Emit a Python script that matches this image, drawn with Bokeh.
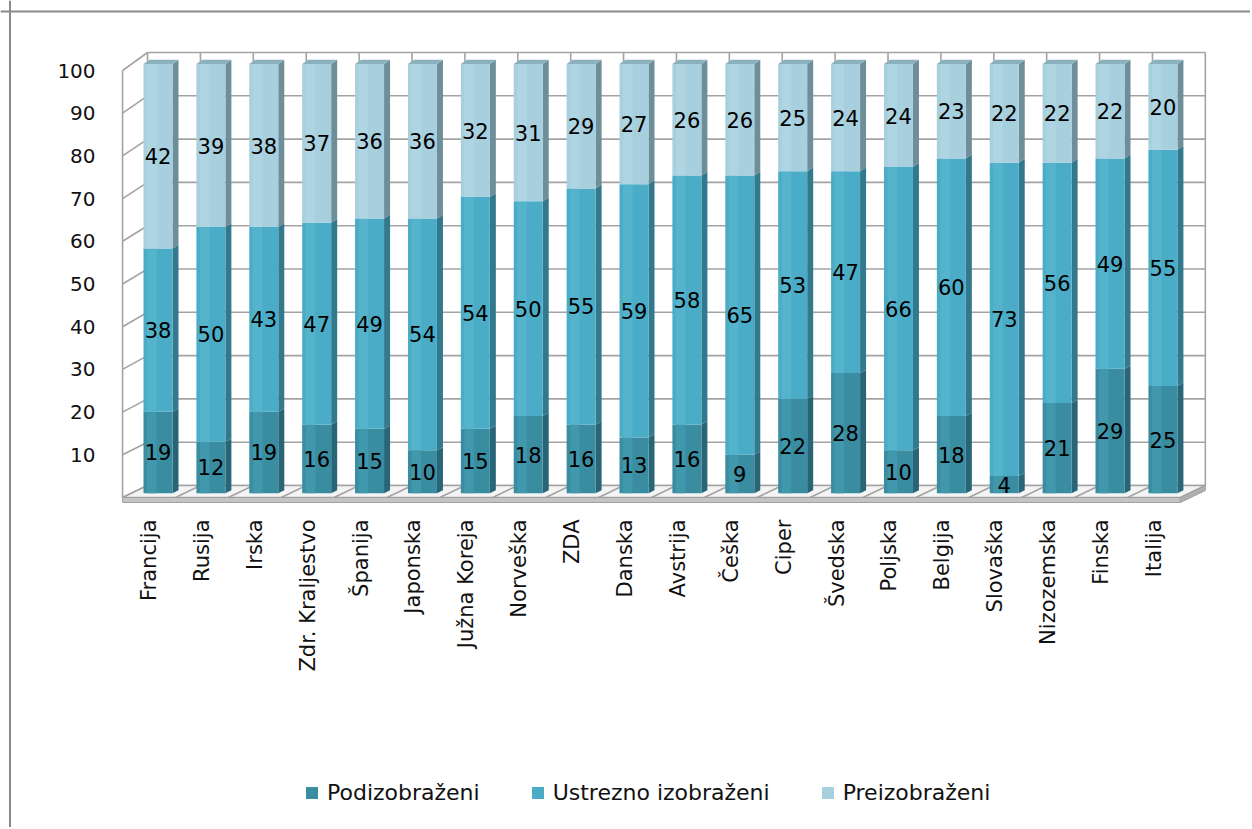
import math
from bokeh.plotting import figure
from bokeh.models import ColumnDataSource, Legend, LegendItem, Span, Range1d
from bokeh.core.properties import value
from bokeh.embed import file_html
from bokeh.resources import INLINE

# ---------------- data ----------------
categories = ["Francija", "Rusija", "Irska", "Zdr. Kraljestvo", "Španija", "Japonska",
              "Južna Koreja", "Norveška", "ZDA", "Danska", "Avstrija", "Češka", "Ciper",
              "Švedska", "Poljska", "Belgija", "Slovaška", "Nizozemska", "Finska", "Italija"]
podizobrazeni = [19, 12, 19, 16, 15, 10, 15, 18, 16, 13, 16, 9, 22, 28, 10, 18, 4, 21, 29, 25]
ustrezno_izobrazeni = [38, 50, 43, 47, 49, 54, 54, 50, 55, 59, 58, 65, 53, 47, 66, 60, 73, 56, 49, 55]
preizobrazeni = [42, 39, 38, 37, 36, 36, 32, 31, 29, 27, 26, 26, 25, 24, 24, 23, 22, 22, 22, 20]
series_names = ["Podizobraženi", "Ustrezno izobraženi", "Preizobraženi"]
y_ticks = [10, 20, 30, 40, 50, 60, 70, 80, 90, 100]
y_tick_labels = [str(t) for t in y_ticks]
y_max = 100   # shares in %, each stack fills up to 100

# ---------------- styling / geometry ----------------
FONT = "DejaVu Sans"
front_colors = ["#3a8ca1", "#4aacc6", "#a7cfdd"]
highlight_colors = ["#4197ab", "#55b4cc", "#b0d5e2"]
side_colors = ["#286677", "#33798d", "#6e8e99"]
top_color = "#8cb1be"
grid_color = "#a3a3a3"

W, H = 1250, 827
PX_X = 52.89          # pixels per category
PX_Y = 4.27           # pixels per value unit
X0 = 148.5            # px of first category (front plane)
Y0 = 497.0            # px (from top) of value 0 (front plane)
DX = 25.0 / PX_X      # depth shift in x (category units)


def dy(v):
    return (12.0 + 0.06 * v) / PX_Y


def proj(x, v, d):
    return x + d * DX, v + d * dy(v)


n = len(categories)
XL, XR = -0.5, n - 0.5
BAR_W = 29.0 / PX_X
D0, D1 = 0.36, 0.60

p = figure(width=W, height=H, output_backend="svg", toolbar_location=None,
           x_range=Range1d(-X0 / PX_X, (W - X0) / PX_X),
           y_range=Range1d((Y0 - H) / PX_Y, Y0 / PX_Y),
           min_border=0, x_axis_location=None, y_axis_location=None)
p.grid.visible = False
p.outline_line_color = None
p.background_fill_color = "white"
p.border_fill_color = "white"

# ---------------- walls ----------------
xs, ys = [], []
for t in [0] + y_ticks:
    a = proj(XL, t, 1); b = proj(XR, t, 1)
    xs.append([a[0], b[0]]); ys.append([a[1], b[1]])
    c = proj(XL, t, 0)
    xs.append([c[0], a[0]]); ys.append([c[1], a[1]])
for k in range(n + 1):
    a = proj(XL + k, 0, 1); b = proj(XL + k, y_max, 1)
    xs.append([a[0], b[0]]); ys.append([a[1], b[1]])
a = proj(XL, 0, 0); b = proj(XL, y_max, 0)
xs.append([a[0], b[0]]); ys.append([a[1], b[1]])
p.multi_line(xs, ys, line_color=grid_color, line_width=1.6)

# ---------------- floor ----------------
TH = 5.0 / PX_Y
fl = [proj(XL, 0, 0), proj(XR, 0, 0), proj(XR, 0, 1), proj(XL, 0, 1)]
p.patch([q[0] for q in fl], [q[1] for q in fl], fill_color="#f4f4f4",
        line_color=grid_color, line_width=1.6)
fxs, fys = [], []
for k in range(1, n):
    a = proj(XL + k, 0, 0); b = proj(XL + k, 0, 1)
    fxs.append([a[0], b[0]]); fys.append([a[1], b[1]])
p.multi_line(fxs, fys, line_color=grid_color, line_width=1.6)
slab_front = [proj(XL, 0, 0), proj(XR, 0, 0), proj(XR, -TH, 0), proj(XL, -TH, 0)]
slab_side = [proj(XR, 0, 0), proj(XR, 0, 1), proj(XR, -TH, 1), proj(XR, -TH, 0)]
p.patches([[q[0] for q in slab_front], [q[0] for q in slab_side]],
          [[q[1] for q in slab_front], [q[1] for q in slab_side]],
          fill_color=["#c4c4c4", "#b0b0b0"], line_color="#a0a0a0", line_width=1)

# ---------------- bars ----------------
series = [podizobrazeni, ustrezno_izobrazeni, preizobrazeni]
bottoms = [0.0] * n
front_renderers = []
lab_x, lab_y, lab_t = [], [], []
side_xs, side_ys, side_c = [], [], []
top_xs, top_ys = [], []
front_data = []
hl_data = []
last = len(series) - 1
for s, vals in enumerate(series):
    L, R, B, T, HL, HR = [], [], [], [], [], []
    for i, v in enumerate(vals):
        b = bottoms[i]
        # the stack represents shares of 100 %: the last (rounded) share closes it
        t = y_max if s == last else min(b + v, y_max)
        xl = i - BAR_W / 2
        xr = i + BAR_W / 2
        fx0, fb = proj(xl, b, D0)
        fx1, ft = proj(xr, t, D0)
        L.append(fx0); R.append(fx1); B.append(fb); T.append(ft)
        HL.append(fx0 + (fx1 - fx0) * 0.12); HR.append(fx0 + (fx1 - fx0) * 0.45)
        sp = [proj(xr, b, D0), proj(xr, t, D0), proj(xr, t, D1), proj(xr, b, D1)]
        side_xs.append([q[0] for q in sp]); side_ys.append([q[1] for q in sp])
        side_c.append(side_colors[s])
        if s == last:
            tp = [proj(xl, t, D0), proj(xr, t, D0), proj(xr, t, D1), proj(xl, t, D1)]
            top_xs.append([q[0] for q in tp]); top_ys.append([q[1] for q in tp])
        mid = (b + t) / 2
        lx, ly = proj(i, mid, D0)
        lab_x.append(lx); lab_y.append(ly); lab_t.append(str(v))
        bottoms[i] = b + v
    front_data.append(dict(left=L, right=R, bottom=B, top=T))
    hl_data.append(dict(left=HL, right=HR, bottom=B, top=T))

p.patches(side_xs, side_ys, fill_color=side_c, line_color=None)
p.patches(top_xs, top_ys, fill_color=top_color, line_color=None)
for s in range(len(series)):
    r = p.quad(source=ColumnDataSource(front_data[s]), left="left", right="right",
               bottom="bottom", top="top", fill_color=front_colors[s], line_color=None)
    front_renderers.append(r)
    p.quad(source=ColumnDataSource(hl_data[s]), left="left", right="right",
           bottom="bottom", top="top", fill_color=highlight_colors[s], line_color=None)

# data labels
p.text(lab_x, lab_y, text=lab_t, text_font=value(FONT), text_font_size="21px",
       text_align="center", text_baseline="middle", text_color="#000000")

# ---------------- axis texts ----------------
ytx = [XL] * len(y_ticks)
p.text(ytx, y_ticks, text=y_tick_labels, text_font=value(FONT), text_font_size="20px",
       text_align="right", text_baseline="middle", x_offset=-27, text_color="#111111")
p.text(list(range(n)), [0] * n, text=categories, text_font=value(FONT),
       text_font_size="21px", text_align="right", text_baseline="middle",
       angle=math.pi / 2, y_offset=22, text_color="#111111")

# ---------------- legend ----------------
legend = Legend(items=[LegendItem(label=series_names[s], renderers=[front_renderers[s]])
                       for s in range(len(series))],
                orientation="horizontal", location=(304, 22),
                glyph_width=15, glyph_height=15, label_standoff=8, spacing=50,
                padding=0, margin=0, border_line_color=None, background_fill_alpha=0,
                label_text_font=FONT, label_text_font_size="22px", label_text_color="#111111")
p.add_layout(legend)

# ---------------- chart border ----------------
p.add_layout(Span(location=p.x_range.start + 9.5 / PX_X, dimension="height",
                  line_color="#8a8a8a", line_width=2))
p.add_layout(Span(location=p.y_range.end - 11.0 / PX_Y, dimension="width",
                  line_color="#8a8a8a", line_width=2))

open("out.html", "w").write(file_html(p, INLINE))
